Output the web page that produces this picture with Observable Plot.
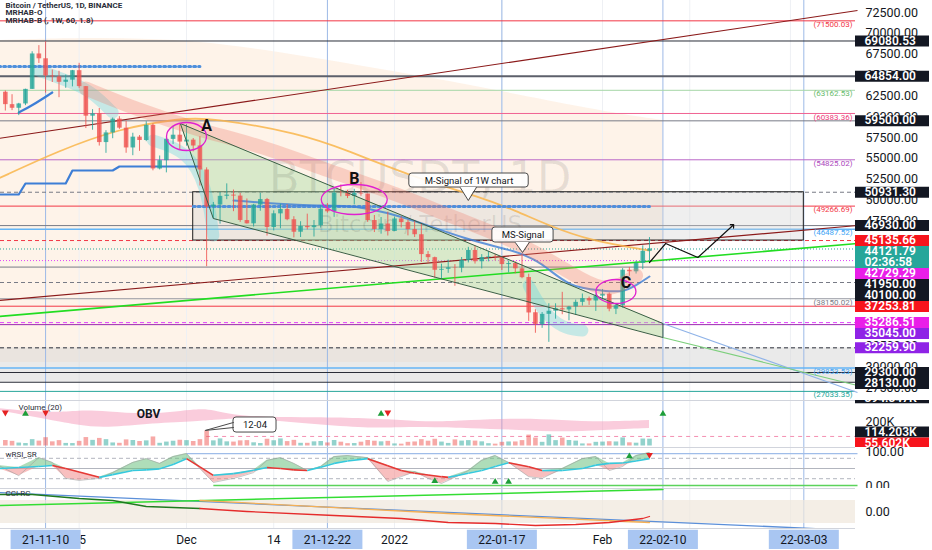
<!DOCTYPE html>
<html><head><meta charset="utf-8">
<script src="https://cdn.jsdelivr.net/npm/d3@7"></script>
<script src="https://cdn.jsdelivr.net/npm/@observablehq/plot@0.6"></script>
<style>
html,body{margin:0;padding:0;background:#fff;}
#chart{position:relative;width:932px;height:550px;overflow:hidden;font-family:Roboto,sans-serif;}
.pane{position:absolute;left:0;width:932px;overflow:hidden;}
.pane svg{display:block;}
</style></head><body><div id="chart"></div>
<script>
// ---------------- DATA ----------------
const candleFirst = "2021-11-04", candleLast = "2022-02-08";
const open = [62930,61444,61006,61527,63273,67525,66947,64882,64774,64122,64380,65519,63606,60058,60345,56891,58052,59707,58617,56247,57541,57138,58960,53723,54716,57274,57776,
56950,57184,56485,53601,49152,49396,50441,50588,50471,47535,47140,49389,50053,46702,48336,48864,47632,46133,46834,46681,46914,48887,48588,50838,50821,50428,50802,50718,47543,46464,47120,
46217,47722,47286,46446,45832,43451,43082,41567,41679,41865,41821,42735,43947,42592,43099,43172,43119,42250,42375,41744,40699,36471,35030,36276,36654,36950,36808,37160,37716,38166,37881,
38466,38694,36896,37311,41572,41383,42380,43840];
const high = [63086,62638,61599,63300,67789,68525,69000,65600,65450,64990,65550,66401,63617,60840,60977,58320,59845,60000,59444,58009,57735,59398,59150,55280,57445,58865,59176,
59053,57375,57600,53859,49699,50891,51936,51200,50797,50125,49485,50797,50189,48700,49500,49436,47995,47392,48300,47537,49328,49576,51375,51810,51156,51280,52088,50718,48140,47900,48548,
47954,47990,47570,47557,47070,43816,43145,42300,42786,42248,43100,44322,44458,43448,43800,43475,43180,42675,42579,43505,41100,36835,36499,37550,37545,38919,37234,38000,38720,38360,38738,
39265,38855,37387,41772,41913,42656,44500,45492];
const low = [60677,60721,60126,61322,63273,66382,62822,64100,62278,63400,63576,63400,58574,58373,56474,55600,57353,58470,55610,55317,55837,57000,53500,53610,53256,56666,56000,
56458,55777,51680,42000,47727,47100,50039,48600,47320,47114,46751,48650,45672,46290,46547,47511,45456,45500,46406,45558,46630,48421,47920,50384,50171,49412,50449,47313,46096,45900,45678,
46208,46654,45696,45500,42500,42430,40610,40501,41200,39650,41268,42450,42311,41725,42578,42691,41540,41252,41138,40553,35440,34008,34602,32917,35701,36234,35507,36155,37268,37351,36632,
38000,36586,36250,37026,40844,41116,41645,42666];
const close = [61444,61006,61527,63273,67525,66947,64882,64774,64122,64380,65519,63606,60058,60345,56891,58052,59707,58622,56247,57541,57138,58960,53726,54721,57275,57776,56950,
57184,56480,53601,49152,49396,50441,50588,50471,47545,47140,49389,50053,46702,48343,48864,47632,46131,46834,46681,46914,48890,48588,50838,50821,50429,50810,50717,47543,46464,47120,46216,
47722,47286,46446,45832,43451,43082,41566,41679,41864,41822,42735,43949,42591,43099,43177,43113,42250,42375,41744,40681,36445,35071,36276,36654,36954,36809,37160,37716,38166,37881,38466,
38694,36896,37311,41574,41383,42380,43840,44121.79];
const volumeK = [45,38,24,20,52,40,68,34,44,21,20,38,69,46,62,52,25,22,50,45,37,42,74,22,32,39,47,
44,37,52,124,42,58,34,32,42,44,26,20,55,43,58,36,46,22,22,34,37,25,45,31,19,20,31,45,39,34,38,
17,15,30,33,52,39,55,32,21,50,40,44,40,34,19,15,30,33,33,44,89,65,30,91,44,65,45,40,17,17,30,
32,35,33,66,26,23,57,55.602];

// price levels (horizontal rays)
const levelValues = [71500.03,69080.53,64854.00,63162.53,60383.36,59500.00,54825.02,50931.30,49266.69,46930.00,46487.52,45135.66,44121.79,42729.29,41950.00,40100.00,38150.02,37253.81,35286.51,35045.00,32259.90,29853.53,29300.00,28130.00,27033.35];
const levelKinds = ["fibRed","dark","darkBold","fibGreen","fibPink","grey","fibPurple","greyDash","fibRed","grey","fibBlue","redDash","lastDot","magentaDot","grey","greyDash","fibGrey","red","magentaDash","purple","darkDash","fibBlue","dark","dark","fibTeal"];
// right-axis price boxes
const boxValues = [69080.53,64854.00,59500.00,50931.30,46930.00,45135.66,44121.79,42729.29,41950.00,40100.00,37253.81,35286.51,35045.00,32259.90,29300.00,28130.00];
const boxKinds = ["level","level","level","level","level","alert","last","pivot","level","level","alert","pivot","zone","zone","level","level"];
const lastCountdown = "02:36:58";
const priceTicks = [27500,30000,32500,35000,37500,40000,42500,45000,47500,50000,52500,55000,57500,60000,62500,65000,67500,70000,72500];

// drawn objects
const cloudDates = ["2021-11-03","2021-11-18","2021-12-03","2021-12-18","2022-01-09","2022-01-31","2022-02-10"];
const cloudTop = [69140,69500,69140,67340,64340,60740,59540];
const cloudBottom = [30500,30500,30500,30500,30500,30500,30500];
const grayBand = {lo:28130, hi:32259.9};
const rangeBox = {d1:"2021-12-02", d2:"2022-03-03", lo:45135.66, hi:50931.30};
const channelDates = ["2021-11-30T02:00Z","2021-12-05","2022-02-10"];
const channelUpper = [59180,57536,35180];
const channelLower = [59180,47780,33500];
const trendLines = [
  {d1:"2021-11-03", p1:57380, d2:"2022-03-11", p2:72740, kind:"maroon"},
  {d1:"2021-11-03", p1:37940, d2:"2022-03-11", p2:46940, kind:"maroon"},
  {d1:"2021-11-03", p1:36020, d2:"2022-03-11", p2:44780, kind:"lime"},
  {d1:"2022-02-10", p1:35180, d2:"2022-03-11", p2:26900, kind:"sky"},
  {d1:"2022-02-10", p1:33500, d2:"2022-03-11", p2:27740, kind:"paleGreen"}
];
const orangeMA = [["2021-11-03",52580],["2021-11-12",55940],["2021-11-21",58580],["2021-11-30",59780],["2021-12-04T12:00Z",59900],["2021-12-18",57980],["2021-12-25",55940],["2022-01-04",52700],["2022-01-14",50300],["2022-01-19",48740],["2022-01-24",46940],["2022-01-30",45140],["2022-02-08",43940]];
const blueDottedTop = [["2021-11-03",66020],["2021-12-03",66020]];
const mSignal1W = [["2021-12-02",49220],["2022-02-08",49220]];
const blueStep = [["2021-11-03",50660],["2021-11-06",50660],["2021-11-07",51980],["2021-11-13",51980],["2021-11-14",53540],["2021-11-20",53540],["2021-11-21",54020],["2021-12-03",54020]];
const blueCurve = [["2021-11-06",60500],["2021-11-08",61340],["2021-11-11",62900]];
const blueChannel = [["2021-12-08",49940],["2021-12-18",49340],["2021-12-25",49340],["2021-12-28",48980],["2022-01-02",48140],["2022-01-12",45140],["2022-01-19",43940],["2022-01-23",42500],["2022-01-27",39500],["2022-02-01",39140],["2022-02-04",38900],["2022-02-06",39740],["2022-02-08",40820]];
const salmonRibbon = [["2021-11-16",63380],["2021-11-24",60740],["2021-12-03",58340],["2021-12-12",56540],["2021-12-22",53540],["2022-01-02",50540],["2022-01-09",48140],["2022-01-17",45740],["2022-01-23",43340],["2022-01-29",40340],["2022-02-02",38900],["2022-02-06",40940]];
const cyanRibbons = [
  [["2021-11-09",65540],["2021-11-14",64100],["2021-11-17",62900],["2021-11-20",60500]],
  [["2021-11-26",57140],["2021-12-01",55940],["2021-12-04",51740],["2021-12-05",45740]],
  [["2022-01-21",39740],["2022-01-23",36740],["2022-01-26",34580],["2022-01-29",34340]]
];
const projection = [["2022-02-08",42500],["2022-02-10T10:00Z",44780],["2022-02-15T05:00Z",43100],["2022-02-20T10:00Z",46940]];
const pivots = [{name:"A", d:"2021-12-01", p:57620, td:"2021-12-04", tp:58940, rx:20, ry:14},
                {name:"B", d:"2021-12-26", p:50060, td:"2021-12-26", tp:52580, rx:33, ry:15},
                {name:"C", d:"2022-02-03", p:39020, td:"2022-02-04T12:00Z", tp:40000, rx:20, ry:12}];
const callouts = [
  {text:"M-Signal of 1W chart", d1:"2022-01-03T05:00Z", d2:"2022-01-21", lo:51500, hi:53180, tip:[["2022-01-10T19:00Z",51500],["2022-01-12",49940],["2022-01-13T05:00Z",51500]]},
  {text:"MS-Signal", d1:"2022-01-15T14:00Z", d2:"2022-01-24T17:00Z", lo:44900, hi:46700, tip:[["2022-01-19",44900],["2022-01-20T02:00Z",43700],["2022-01-21T02:00Z",44900]]}
];
const legendLines = ["Bitcoin / TetherUS, 1D, BINANCE","MRHAB-O","MRHAB-B (, 1W, 60, 1.8)"];
const watermark = ["BTCUSDT, 1D","Bitcoin / TetherUS"];

// volume / OBV pane
const obvDates = ["2021-11-03","2021-11-11","2021-11-15","2021-11-19","2021-11-26","2021-12-03","2021-12-05","2021-12-08","2021-12-13","2021-12-20","2021-12-28","2022-01-02","2022-01-07","2022-01-12","2022-01-20","2022-01-26","2022-02-01","2022-02-08"];
const obvHi = [306,265,290,282,249,306,290,249,233,233,225,208,192,208,225,208,192,208];
const obvLo = [290,208,167,143,184,200,208,225,208,176,143,151,151,143,127,110,127,143];
const volTicks = [200];
const volBoxValues = [394.347,114.203,55.602];
const volBoxKinds = ["level","level","alert"];
const volCallout = {text:"12-04", d1:"2021-12-08", d2:"2021-12-14T10:00Z", lo:110, hi:233, tip:[["2021-12-08",192],["2021-12-03T19:00Z",127],["2021-12-08",151]]};
const volGuide = 78;
const volSignalDates = ["2021-11-04","2021-11-07","2021-11-10","2021-12-30","2021-12-31","2022-02-10"];
const volSignalDir = ["down","up","down","up","down","up"];
const volSignalLevel = 268;

// wRSI_SR pane
const rsiDates = ["2021-11-03","2021-11-06","2021-11-09","2021-11-11","2021-11-13","2021-11-15","2021-11-18","2021-11-20","2021-11-23","2021-11-25","2021-11-27","2021-11-29","2021-12-01","2021-12-03","2021-12-05","2021-12-08","2021-12-09","2021-12-11","2021-12-13","2021-12-15","2021-12-17","2021-12-19","2021-12-21","2021-12-23","2021-12-25","2021-12-28","2021-12-31","2022-01-02","2022-01-04","2022-01-06","2022-01-08","2022-01-09","2022-01-12","2022-01-14","2022-01-16","2022-01-18","2022-01-21","2022-01-23","2022-01-26","2022-01-29","2022-01-31","2022-02-02","2022-02-04","2022-02-06","2022-02-08"];
const rsiFast = [59,29,82,68,21,15,21,38,68,79,65,85,94,50,9,21,26,38,74,82,65,44,56,85,88,82,12,26,41,21,6,15,44,74,88,68,26,21,50,79,85,44,56,88,97];
const rsiSlow = [50,53,56,59,50,40,24,32,44,46,49,62,79,55,30,35,38,45,53,50,46,44,54,65,72,79,58,44,36,31,26,24,36,44,56,67,55,44,44,50,60,65,66,72,79];
const rsiDashedLevels = [80,20];
const rsiMidLevel = [50];
const rsiTrend = [{d1:"2021-12-01", d2:"2022-03-11", v:94, kind:"sky"},{d1:"2021-12-05", d2:"2022-03-11", v:0, kind:"lime"}];
const rsiSignalDates = ["2022-01-07","2022-01-16","2022-01-18","2022-02-05","2022-02-08"];
const rsiSignalDir = ["up","up","up","up","down"];
const rsiSignalValue = [15,13,13,88,88];
const rsiAxis = [100,0];

// CCI-RC pane
const cciBlue = [["2021-11-03",190],["2022-03-11",-190]];
const cciLime = [["2021-11-03",60],["2022-02-10",220]];
const cciGreen = [["2021-11-03",170],["2021-11-08",170],["2021-11-15",130],["2021-11-20",110],["2021-11-25",50],["2021-12-03",30]];
const cciRed = [["2021-12-03",30],["2021-12-10",0],["2021-12-23",-40],["2022-01-02",-70],["2022-01-09",-110],["2022-01-16",-120],["2022-01-22",-140],["2022-01-28",-130],["2022-02-02",-110],["2022-02-07",-70],["2022-02-08",-50]];
const cciOrange = [["2021-12-03",110],["2022-01-09",-20],["2022-02-08",-110]];
const cciBand = {lo:-120, hi:110};
const cciAxis = [0];

// time axis
const tickDates = ["2021-11-15","2021-12-01","2021-12-14","2022-01-01","2022-01-17","2022-02-01","2022-02-14","2022-03-01"];
const tickTexts = ["15","Dec","14","2022","17","Feb","14","Mar"];
const markedDates = ["2021-11-10","2021-12-22","2022-01-17","2022-02-10","2022-03-03"];
const markedTexts = ["21-11-10","21-12-22","22-01-17","22-02-10","22-03-03"];

// ---------------- STYLE / LAYOUT ----------------
const UP = "#26a69a", DN = "#ef5350";
const FONT = "Roboto, sans-serif";
const W = 932, MR = 77, PLOTW = W - MR;
const DAY = 864e5, PX_PER_DAY = 6.71, DEC1 = Date.UTC(2021,11,1), DEC1_PX = 186;
const X0 = new Date(DEC1 - DEC1_PX/PX_PER_DAY*DAY);
const X1 = new Date(DEC1 + (PLOTW-DEC1_PX)/PX_PER_DAY*DAY);
const XBOX = new Date(+X1 + 74/PX_PER_DAY*DAY);
const xScale = {type:"utc", domain:[X0, X1], axis:null};
const D = s => new Date(s);
const pts = arr => arr.map(([d,v]) => ({date:D(d), v}));

const lineStyle = {
  fibRed:{stroke:"#f23645",w:1,label:"#f23645"},
  dark:{stroke:"#2a2e39",w:1},
  darkBold:{stroke:"#5d606b",w:2},
  fibGreen:{stroke:"#a5d6a7",w:1,label:"#66bb6a"},
  fibPink:{stroke:"#f06292",w:1,label:"#ec407a"},
  grey:{stroke:"#787b86",w:1},
  fibPurple:{stroke:"#ba68c8",w:1,label:"#ab47bc"},
  greyDash:{stroke:"#787b86",w:1,dash:"4,3"},
  fibBlue:{stroke:"#64b5f6",w:1.5,label:"#42a5f5"},
  redDash:{stroke:"#f23645",w:1,dash:"4,3"},
  lastDot:{stroke:"#26a69a",w:1,dash:"1,2"},
  magentaDot:{stroke:"#e040fb",w:1,dash:"1,2"},
  red:{stroke:"#f23645",w:1},
  magentaDash:{stroke:"#e040fb",w:1,dash:"4,3"},
  purple:{stroke:"#9c27b0",w:1},
  darkDash:{stroke:"#2a2e39",w:1,dash:"4,3"},
  fibGrey:{stroke:"#9598a1",w:1,label:"#787b86"},
  fibTeal:{stroke:"#26a69a",w:1,label:"#26a69a"}
};
const trendStyle = {maroon:"#8b1a1a", lime:"#22dd22", sky:"#8fb3e8", paleGreen:"#7ccf7c"};
const boxFill = {level:"#131722", alert:"#f7141c", last:"#26a69a", pivot:"#e91ee8", zone:"#8f23e6"};
const signalColor = {up:"#1e9e3a", down:"#e52222"};

const candles = d3.utcDay.range(D(candleFirst), d3.utcDay.offset(D(candleLast), 1))
  .map((date,i) => ({date, o:open[i], h:high[i], l:low[i], c:close[i], v:volumeK[i]}));
const candleColor = d => d.c >= d.o ? UP : DN;

function ellipse(rx, ry){
  const k = 0.5523;
  return {draw(ctx){
    ctx.moveTo(rx,0);
    ctx.bezierCurveTo(rx, ry*k, rx*k, ry, 0, ry);
    ctx.bezierCurveTo(-rx*k, ry, -rx, ry*k, -rx, 0);
    ctx.bezierCurveTo(-rx, -ry*k, -rx*k, -ry, 0, -ry);
    ctx.bezierCurveTo(rx*k, -ry, rx, -ry*k, rx, 0);
    ctx.closePath();
  }};
}
const triUp = {draw(ctx){ ctx.moveTo(0,-3.2); ctx.lineTo(3.4,2.6); ctx.lineTo(-3.4,2.6); ctx.closePath(); }};
const triDown = {draw(ctx){ ctx.moveTo(0,3.2); ctx.lineTo(3.4,-2.6); ctx.lineTo(-3.4,-2.6); ctx.closePath(); }};

// stack right-axis boxes so they don't overlap (like TradingView)
function stackBoxes(values, kinds, yS, texts){
  let prev = -Infinity;
  return values.map((v,i) => {
    const k = kinds[i], h = k === "last" ? 22 : 11;
    let top = yS(v) - 5.5;
    if (top < prev) top = prev;
    prev = top + h;
    return {v, k, h, yc: yS.invert(top + h/2), text: texts(v,k)};
  });
}

const verticalUserLines = Plot.ruleX(markedDates.map(D), {stroke:"#9db9e6", strokeWidth:1});
const gridLines = Plot.ruleX(tickDates.map(D), {stroke:"#eef0f4", strokeWidth:1});
const boxText = {fill:"#fff", fontSize:12, fontWeight:600};

function pane(top, height, node){
  const div = document.createElement("div");
  div.className = "pane"; div.style.top = top + "px"; div.style.height = height + "px";
  div.appendChild(node); document.getElementById("chart").appendChild(div);
}

// ---------------- MAIN PANE ----------------
const MAIN_H = 400;
const yMainDomain = [25940, 73940];
const yMain = d3.scaleLinear().domain(yMainDomain).range([MAIN_H, 0]);
const levels = levelValues.map((v,i) => ({v, kind:levelKinds[i]}));
const boxes = stackBoxes(boxValues, boxKinds, yMain, (v,k) => k === "last" ? v.toFixed(2) + "\n" + lastCountdown : v.toFixed(2));
const cloud = cloudDates.map((d,i) => ({date:D(d), top:cloudTop[i], bottom:cloudBottom[i]}));
const channel = channelDates.map((d,i) => ({date:D(d), up:channelUpper[i], lo:channelLower[i]}));
const channelOutline = [
  {date:D(channelDates[0]), v:channelUpper[0]},
  {date:D(channelDates[2]), v:channelUpper[2]},
  {date:D(channelDates[2]), v:channelLower[2]},
  {date:D(channelDates[1]), v:channelLower[1]},
  {date:D(channelDates[0]), v:channelLower[0]}
];

const mainMarks = [
  Plot.areaY(cloud, {x:"date", y1:"bottom", y2:"top", fill:"#fbd2ae", fillOpacity:0.27, curve:"basis"}),
  gridLines,
  Plot.rect([grayBand], {x1:() => X0, x2:() => X1, y1:"lo", y2:"hi", fill:"#d6d6d6", fillOpacity:0.5}),
  verticalUserLines,
  ...Object.entries(lineStyle).map(([k,s]) => Plot.ruleY(levels.filter(d => d.kind === k), {y:"v", stroke:s.stroke, strokeWidth:s.w, strokeDasharray:s.dash})),
  Plot.rect([rangeBox], {x1:d => D(d.d1), x2:d => D(d.d2), y1:"lo", y2:"hi", fill:"#d2d2d2", fillOpacity:0.35, stroke:"#1e1e1e", strokeWidth:1}),
  Plot.areaY(channel, {x:"date", y1:"lo", y2:"up", fill:"#a8dca0", fillOpacity:0.42}),
  Plot.text([watermark[0]], {frameAnchor:"middle", dx:-8, dy:-22, fontSize:45, fontFamily:"DejaVu Sans", fill:"#000", fillOpacity:0.09}),
  Plot.text([watermark[1]], {frameAnchor:"middle", dx:-8, dy:24, fontSize:23, fontFamily:"DejaVu Sans", fill:"#000", fillOpacity:0.09}),
  Plot.link(trendLines, {x1:d => D(d.d1), y1:"p1", x2:d => D(d.d2), y2:"p2", stroke:d => trendStyle[d.kind], strokeWidth:d => d.kind === "lime" ? 1.6 : 1.1}),
  Plot.line(pts(orangeMA), {x:"date", y:"v", stroke:"#f9b54a", strokeWidth:1.8, strokeOpacity:0.85, curve:"basis"}),
  ...cyanRibbons.map(r => Plot.line(pts(r), {x:"date", y:"v", stroke:"#5fd3e0", strokeWidth:12, strokeOpacity:0.35, curve:"basis"})),
  Plot.line(pts(blueDottedTop), {x:"date", y:"v", stroke:"#4f8fdc", strokeWidth:3, strokeDasharray:"2,3", strokeLinecap:"round"}),
  Plot.line(pts(mSignal1W), {x:"date", y:"v", stroke:"#4f8fdc", strokeWidth:3, strokeDasharray:"2,3", strokeLinecap:"round"}),
  Plot.line(pts(blueStep), {x:"date", y:"v", stroke:"#3d7ed6", strokeWidth:2.2}),
  Plot.line(pts(blueCurve), {x:"date", y:"v", stroke:"#3d7ed6", strokeWidth:2.2, curve:"basis"}),
  Plot.line(pts(blueChannel), {x:"date", y:"v", stroke:"#3d7ed6", strokeWidth:2, strokeOpacity:0.8, curve:"basis"}),
  Plot.ruleX(candles, {x:"date", y1:"l", y2:"h", stroke:candleColor, strokeWidth:1, strokeOpacity:0.85}),
  Plot.ruleX(candles, {x:"date", y1:"o", y2:"c", stroke:candleColor, strokeWidth:4.6, strokeOpacity:0.8}),
  Plot.line(pts(salmonRibbon), {x:"date", y:"v", stroke:"#f07a6a", strokeWidth:14, strokeOpacity:0.3, curve:"basis"}),
  Plot.line(channelOutline, {x:"date", y:"v", stroke:"#3a5f45", strokeWidth:1}),
  Plot.dot(pivots, {x:d => D(d.d), y:"p", symbol:d => ellipse(d.rx, d.ry), stroke:"#e020d0", strokeWidth:1.3, fill:"none"}),
  Plot.text(pivots, {x:d => D(d.td), y:"tp", text:"name", fontSize:16, fontWeight:"bold", fill:"#111"}),
  ...callouts.flatMap(c => [
    Plot.rect([c], {x1:d => D(d.d1), x2:d => D(d.d2), y1:"lo", y2:"hi", fill:"#fff", fillOpacity:0.9, stroke:"#4a4a4a", rx:3}),
    Plot.areaY(pts(c.tip), {x:"date", y1:() => c.tip[0][1], y2:"v", fill:"#fff"}),
    Plot.line(pts(c.tip), {x:"date", y:"v", stroke:"#4a4a4a", strokeWidth:1}),
    Plot.text([c], {x:d => new Date((+D(d.d1) + +D(d.d2))/2), y:d => (d.lo + d.hi)/2, text:"text", fontSize:9.5, fill:"#131722"})
  ]),
  Plot.line(pts(projection), {x:"date", y:"v", stroke:"#111", strokeWidth:1.2, markerEnd:"arrow"}),
  Plot.text([legendLines.join("\n")], {frameAnchor:"top-left", dx:5, dy:2, lineAnchor:"top", lineHeight:0.95, fontSize:8, fontWeight:"bold", fill:"#2a2e39"}),
  Plot.axisY({anchor:"right", ticks:priceTicks, tickFormat:d => d.toFixed(2), tickSize:0, tickPadding:10, fontSize:12.5, color:"#131722"}),
  Plot.text(levels.filter(d => d.kind.startsWith("fib")), {x:() => X1, y:"v", dx:-3, dy:3.5, textAnchor:"end", text:d => "(" + d.v.toFixed(2) + ")", fontSize:8, fill:d => lineStyle[d.kind].label}),
  Plot.ruleY(boxes, {y:"yc", x1:() => X1, x2:() => XBOX, stroke:d => boxFill[d.k], strokeWidth:"h"}),
  Plot.text(boxes, {x:() => X1, y:"yc", dx:9, textAnchor:"start", text:"text", lineHeight:0.92, ...boxText})
];
pane(0, MAIN_H, Plot.plot({width:W, height:MAIN_H, marginLeft:0, marginRight:MR, marginTop:0, marginBottom:0,
  x:xScale, y:{domain:yMainDomain, axis:null}, style:{fontFamily:FONT, background:"#fff"}, marks:mainMarks}));

// ---------------- VOLUME / OBV PANE ----------------
const VOL_TOP = 400, VOL_H = 47;
const volDomain = [-12.25, 371.7];
const yVol = d3.scaleLinear().domain(volDomain).range([VOL_H, 0]);
const obv = obvDates.map((d,i) => ({date:D(d), hi:obvHi[i], lo:obvLo[i]}));
const volBoxes = stackBoxes(volBoxValues, volBoxKinds, yVol, v => v.toFixed(3) + "K");
const volSignals = volSignalDates.map((d,i) => ({date:D(d), dir:volSignalDir[i]}));
pane(VOL_TOP, VOL_H, Plot.plot({width:W, height:VOL_H, marginLeft:0, marginRight:MR, marginTop:0, marginBottom:0,
  x:xScale, y:{domain:volDomain, axis:null}, style:{fontFamily:FONT, background:"#fff"},
  marks:[
    gridLines, verticalUserLines,
    Plot.ruleY([volDomain[1]], {stroke:"#d1d4dc"}),
    Plot.areaY(obv, {x:"date", y1:"lo", y2:"hi", fill:"#f48fb1", fillOpacity:0.45, curve:"basis"}),
    Plot.ruleY([volGuide], {stroke:"#f48fb1", strokeDasharray:"4,4", x1:() => D("2021-12-04"), x2:() => X1}),
    Plot.ruleX(candles, {x:"date", y1:0, y2:"v", stroke:candleColor, strokeWidth:4.6, strokeOpacity:0.5}),
    Plot.dot(volSignals, {x:"date", y:() => volSignalLevel, symbol:d => d.dir === "up" ? triUp : triDown, fill:d => signalColor[d.dir], stroke:"none"}),
    Plot.text(["Volume (20)"], {frameAnchor:"top-left", dx:18, dy:4, lineAnchor:"top", fontSize:8, fill:"#2a2e39"}),
    Plot.text(["OBV"], {x:() => D("2021-11-25T08:00Z"), y:() => 262, fontSize:12, fontWeight:"bold", fill:"#131722"}),
    Plot.rect([volCallout], {x1:d => D(d.d1), x2:d => D(d.d2), y1:"lo", y2:"hi", fill:"#fff", stroke:"#4a4a4a", rx:3}),
    Plot.line(pts(volCallout.tip), {x:"date", y:"v", stroke:"#4a4a4a", strokeWidth:1}),
    Plot.text([volCallout], {x:d => new Date((+D(d.d1) + +D(d.d2))/2), y:d => (d.lo + d.hi)/2, text:"text", fontSize:9.5, fill:"#131722"}),
    Plot.text(volTicks, {x:() => X1, y:d => d, dx:10, textAnchor:"start", text:d => d + "K", fontSize:12.5, fill:"#131722"}),
    Plot.ruleY(volBoxes, {y:"yc", x1:() => X1, x2:() => XBOX, stroke:d => boxFill[d.k], strokeWidth:"h"}),
    Plot.text(volBoxes, {x:() => X1, y:"yc", dx:9, textAnchor:"start", text:"text", ...boxText})
  ]}));

// ---------------- wRSI_SR PANE ----------------
const RSI_TOP = 447, RSI_H = 41;
const rsiDomain = [-8.8, 111.8];
const rsi = rsiDates.map((d,i) => ({date:D(d), fast:rsiFast[i], slow:rsiSlow[i]}));
const rsiSeg = rsi.slice(1).map((d,i) => ({x1:rsi[i].date, y1:rsi[i].slow, x2:d.date, y2:d.slow, rising:d.slow >= rsi[i].slow}));
const rsiSignals = rsiSignalDates.map((d,i) => ({date:D(d), dir:rsiSignalDir[i], v:rsiSignalValue[i]}));
pane(RSI_TOP, RSI_H, Plot.plot({width:W, height:RSI_H, marginLeft:0, marginRight:MR, marginTop:0, marginBottom:0,
  x:xScale, y:{domain:rsiDomain, axis:null}, style:{fontFamily:FONT, background:"#fff"},
  marks:[
    gridLines, verticalUserLines,
    Plot.ruleY([rsiDomain[1]], {stroke:"#d1d4dc"}),
    Plot.ruleY(rsiDashedLevels, {stroke:"#b2b5be", strokeDasharray:"4,3", strokeWidth:1}),
    Plot.ruleY(rsiMidLevel, {stroke:"#b2b5be", strokeWidth:1}),
    Plot.link(rsiTrend, {x1:d => D(d.d1), x2:d => D(d.d2), y1:"v", y2:"v", stroke:d => d.kind === "lime" ? "#5bd35b" : "#9fbde9", strokeWidth:1.3}),
    Plot.areaY(rsi, {x:"date", y1:"slow", y2:d => Math.max(d.fast, d.slow), fill:"#6cc17f", fillOpacity:0.55}),
    Plot.areaY(rsi, {x:"date", y1:"slow", y2:d => Math.min(d.fast, d.slow), fill:"#f28b8b", fillOpacity:0.55}),
    Plot.line(rsi, {x:"date", y:"fast", stroke:"#a0a0a0", strokeWidth:0.6}),
    Plot.link(rsiSeg, {x1:"x1", y1:"y1", x2:"x2", y2:"y2", stroke:d => d.rising ? "#36c9dc" : "#e53935", strokeWidth:1.6}),
    Plot.dot(rsiSignals, {x:"date", y:"v", symbol:d => d.dir === "up" ? triUp : triDown, fill:d => signalColor[d.dir], stroke:"none"}),
    Plot.text(["wRSI_SR"], {frameAnchor:"top-left", dx:5, dy:4, lineAnchor:"top", fontSize:8, fill:"#2a2e39"}),
    Plot.text(rsiAxis, {x:() => X1, y:d => d, dx:10, textAnchor:"start", text:d => d.toFixed(2), fontSize:12.5, fill:"#131722"})
  ]}));

// ---------------- CCI-RC PANE ----------------
const CCI_TOP = 488, CCI_H = 40;
const cciDomain = [-170, 230];
pane(CCI_TOP, CCI_H, Plot.plot({width:W, height:CCI_H, marginLeft:0, marginRight:MR, marginTop:0, marginBottom:0,
  x:xScale, y:{domain:cciDomain, axis:null}, style:{fontFamily:FONT, background:"#fff"},
  marks:[
    gridLines, verticalUserLines,
    Plot.ruleY([cciDomain[1]], {stroke:"#d1d4dc"}),
    Plot.rect([cciBand], {x1:() => X0, x2:() => X1, y1:"lo", y2:"hi", fill:"#efe7dc", fillOpacity:0.7}),
    Plot.line(pts(cciBlue), {x:"date", y:"v", stroke:"#5b8fd9", strokeWidth:1.3}),
    Plot.line(pts(cciLime), {x:"date", y:"v", stroke:"#33dd33", strokeWidth:1.5}),
    Plot.line(pts(cciOrange), {x:"date", y:"v", stroke:"#f5b056", strokeWidth:1.3}),
    Plot.line(pts(cciGreen), {x:"date", y:"v", stroke:"#1f7a1f", strokeWidth:1.3}),
    Plot.line(pts(cciRed), {x:"date", y:"v", stroke:"#e52b2b", strokeWidth:1.3}),
    Plot.text(["CCI-RC"], {frameAnchor:"top-left", dx:5, dy:2, lineAnchor:"top", fontSize:8, fill:"#2a2e39"}),
    Plot.text(cciAxis, {x:() => X1, y:d => d, dx:10, textAnchor:"start", text:d => d.toFixed(2), fontSize:12.5, fill:"#131722"})
  ]}));

// ---------------- TIME AXIS ----------------
const T_TOP = 528, T_H = 22;
const ticks = tickDates.map((d,i) => ({date:D(d), text:tickTexts[i]}));
const marked = markedDates.map((d,i) => ({date:D(d), text:markedTexts[i]}));
pane(T_TOP, T_H, Plot.plot({width:W, height:T_H, marginLeft:0, marginRight:MR, marginTop:0, marginBottom:0,
  x:xScale, y:{domain:[0,1], axis:null}, style:{fontFamily:FONT, background:"#fff"},
  marks:[
    Plot.ruleY([1], {stroke:"#d1d4dc"}),
    Plot.text(ticks, {x:"date", y:() => 0.45, text:"text", fontSize:12, fill:"#131722"}),
    Plot.ruleX(marked, {x:"date", y1:() => 0.04, y2:() => 0.92, stroke:"#a9c6f2", strokeWidth:70}),
    Plot.text(marked, {x:"date", y:() => 0.45, text:"text", fontSize:12, fill:"#131722"})
  ]}));
</script></body></html>
